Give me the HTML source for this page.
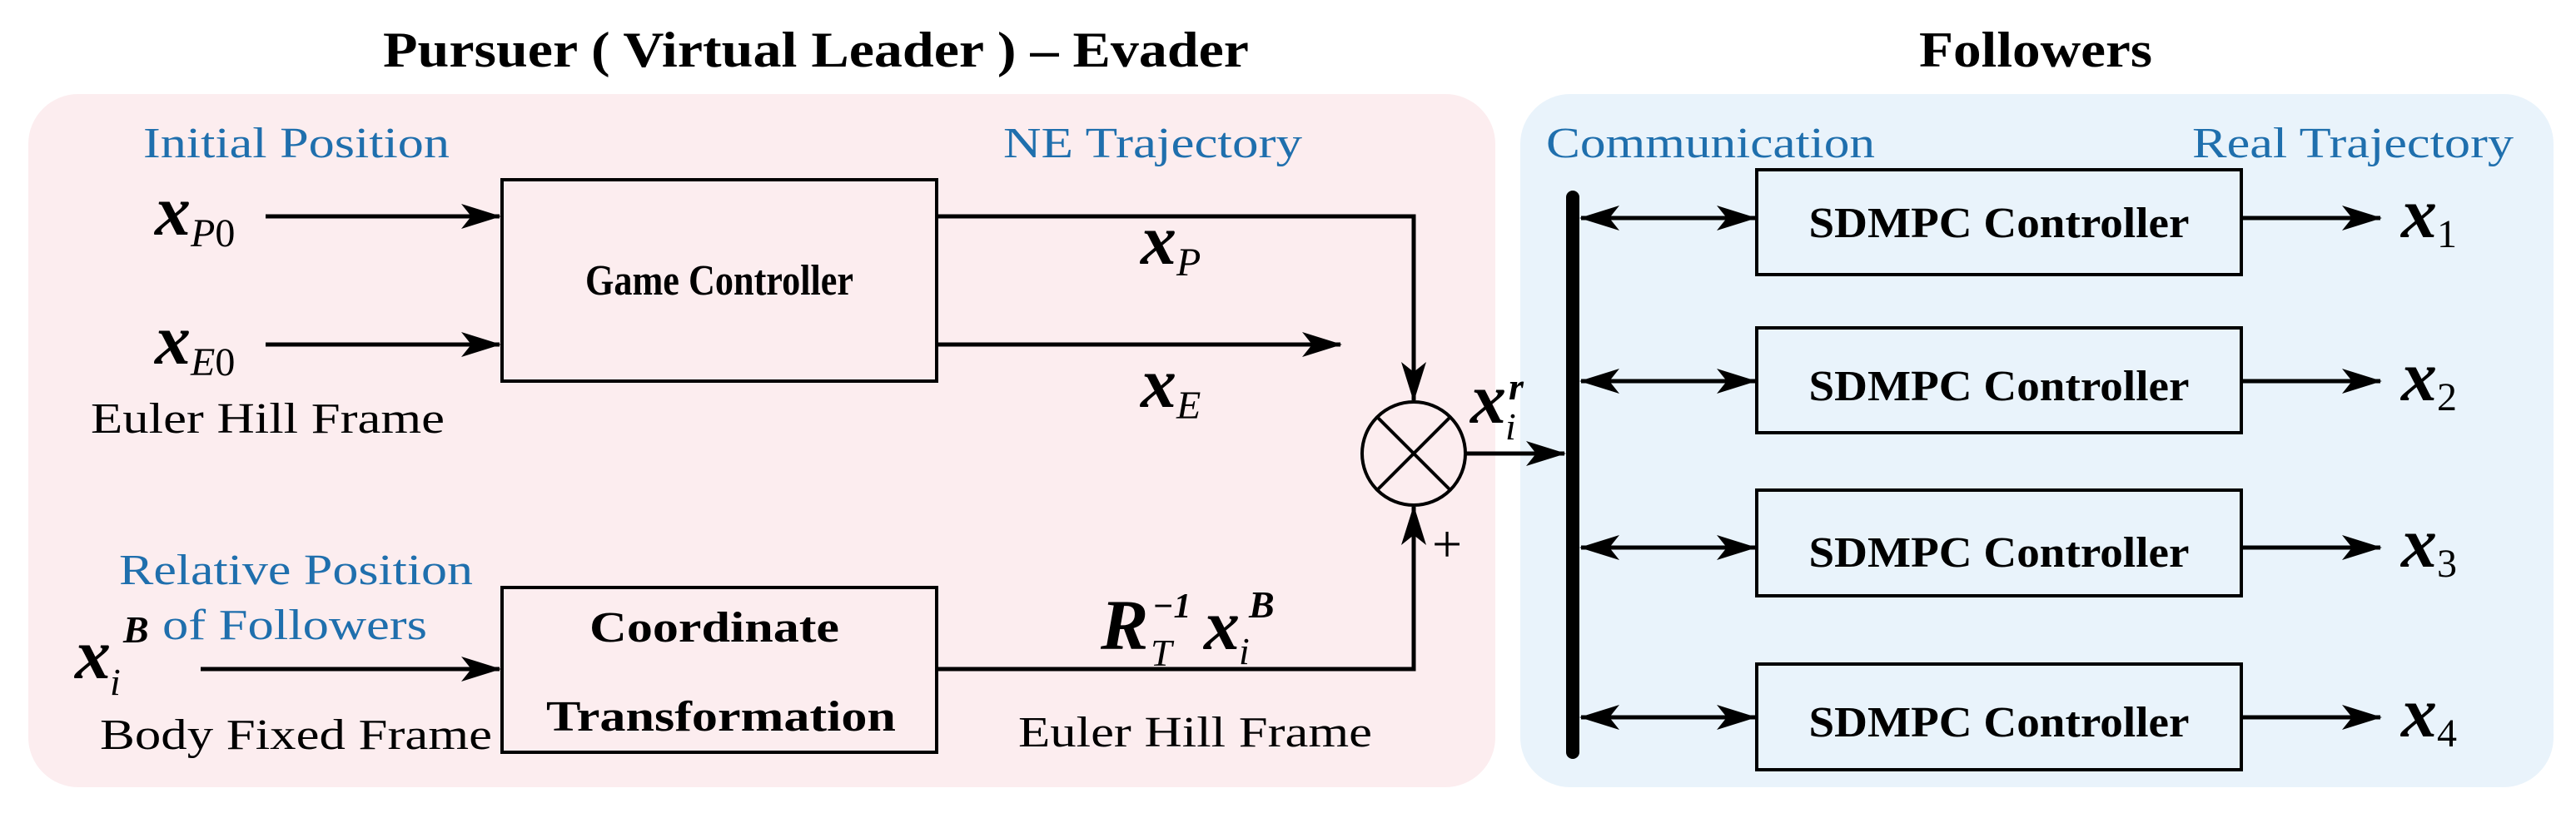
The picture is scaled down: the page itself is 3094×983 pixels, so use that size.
<!DOCTYPE html>
<html><head><meta charset="utf-8"><style>html,body{margin:0;padding:0;background:#fff}svg{display:block}svg text{font-family:"Liberation Serif","Times New Roman",serif}</style></head>
<body>
<svg width="3094" height="983" viewBox="0 0 3094 983" xmlns="http://www.w3.org/2000/svg">
<defs>
<marker id="a" markerUnits="userSpaceOnUse" markerWidth="48" markerHeight="30" refX="46" refY="15" orient="auto-start-reverse" viewBox="0 0 48 30">
<path d="M0,0 L48,15 L0,30 L12,15 z" fill="#000"/></marker>
</defs>
<rect x="34" y="113" width="1762" height="833" rx="60" fill="#fcedef"/>
<rect x="1826" y="113" width="1241" height="833" rx="60" fill="#e9f3fb"/>
<text x="980" y="80" font-size="60" font-weight="bold" text-anchor="middle" textLength="1040" lengthAdjust="spacingAndGlyphs">Pursuer ( Virtual Leader ) – Evader</text>
<text x="2445" y="80" font-size="60" font-weight="bold" text-anchor="middle" textLength="280" lengthAdjust="spacingAndGlyphs">Followers</text>
<g fill="#1f6fad" font-size="52">
<text x="172" y="189" textLength="368" lengthAdjust="spacingAndGlyphs">Initial Position</text>
<text x="1205" y="189" textLength="359" lengthAdjust="spacingAndGlyphs">NE Trajectory</text>
<text x="143" y="702" textLength="425" lengthAdjust="spacingAndGlyphs">Relative Position</text>
<text x="195" y="768" textLength="318" lengthAdjust="spacingAndGlyphs">of Followers</text>
<text x="1857" y="189" textLength="395" lengthAdjust="spacingAndGlyphs">Communication</text>
<text x="2633" y="189" textLength="386" lengthAdjust="spacingAndGlyphs">Real Trajectory</text>
</g>
<g font-size="52">
<text x="109" y="520" textLength="425" lengthAdjust="spacingAndGlyphs">Euler Hill Frame</text>
<text x="120" y="900" textLength="471" lengthAdjust="spacingAndGlyphs">Body Fixed Frame</text>
<text x="1223" y="897" textLength="425" lengthAdjust="spacingAndGlyphs">Euler Hill Frame</text>
</g>
<g fill="none" stroke="#000" stroke-width="4">
<rect x="603" y="216" width="522" height="242"/>
<rect x="603" y="706" width="522" height="198"/>
<rect x="2110" y="204" width="582" height="126"/>
<rect x="2110" y="394" width="582" height="126"/>
<rect x="2110" y="589" width="582" height="127"/>
<rect x="2110" y="798" width="582" height="127"/>
<circle cx="1698" cy="545" r="62"/>
<line x1="1654" y1="501" x2="1742" y2="589"/>
<line x1="1742" y1="501" x2="1654" y2="589"/>
</g>
<g fill="none" stroke="#000" stroke-width="5">
<line x1="319" y1="260" x2="600" y2="260" marker-end="url(#a)"/>
<line x1="319" y1="414" x2="600" y2="414" marker-end="url(#a)"/>
<line x1="241" y1="804" x2="600" y2="804" marker-end="url(#a)"/>
<polyline points="1125,260 1698,260 1698,481" marker-end="url(#a)"/>
<line x1="1125" y1="414" x2="1610" y2="414" marker-end="url(#a)"/>
<polyline points="1125,804 1698,804 1698,609" marker-end="url(#a)"/>
<line x1="1760" y1="545" x2="1879" y2="545" marker-end="url(#a)"/>
<line x1="1899" y1="262" x2="2108" y2="262" marker-start="url(#a)" marker-end="url(#a)"/>
<line x1="1899" y1="458" x2="2108" y2="458" marker-start="url(#a)" marker-end="url(#a)"/>
<line x1="1899" y1="658" x2="2108" y2="658" marker-start="url(#a)" marker-end="url(#a)"/>
<line x1="1899" y1="862" x2="2108" y2="862" marker-start="url(#a)" marker-end="url(#a)"/>
<line x1="2692" y1="262" x2="2859" y2="262" marker-end="url(#a)"/>
<line x1="2692" y1="458" x2="2859" y2="458" marker-end="url(#a)"/>
<line x1="2692" y1="658" x2="2859" y2="658" marker-end="url(#a)"/>
<line x1="2692" y1="862" x2="2859" y2="862" marker-end="url(#a)"/>
</g>
<rect x="1881" y="229" width="16" height="683" rx="8" fill="#000"/>
<g font-size="52" font-weight="bold" text-anchor="middle">
<text x="864" y="354" textLength="322" lengthAdjust="spacingAndGlyphs">Game Controller</text>
<text x="858" y="771" textLength="300" lengthAdjust="spacingAndGlyphs">Coordinate</text>
<text x="866" y="878" textLength="420" lengthAdjust="spacingAndGlyphs">Transformation</text>
<text x="2401" y="285" textLength="457" lengthAdjust="spacingAndGlyphs">SDMPC Controller</text>
<text x="2401" y="481" textLength="457" lengthAdjust="spacingAndGlyphs">SDMPC Controller</text>
<text x="2401" y="681" textLength="457" lengthAdjust="spacingAndGlyphs">SDMPC Controller</text>
<text x="2401" y="885" textLength="457" lengthAdjust="spacingAndGlyphs">SDMPC Controller</text>
</g>
<g font-style="italic">
<text x="186" y="282" font-size="86" font-weight="bold">x<tspan font-size="48" font-weight="normal" dy="14">P</tspan><tspan font-size="48" font-weight="normal" font-style="normal">0</tspan></text>
<text x="186" y="437" font-size="86" font-weight="bold">x<tspan font-size="48" font-weight="normal" dy="14">E</tspan><tspan font-size="48" font-weight="normal" font-style="normal">0</tspan></text>
<text x="1370" y="317" font-size="86" font-weight="bold">x<tspan font-size="48" font-weight="normal" dy="14">P</tspan></text>
<text x="1370" y="489" font-size="86" font-weight="bold">x<tspan font-size="48" font-weight="normal" dy="14">E</tspan></text>
<text x="90" y="815" font-size="86" font-weight="bold">x</text>
<text x="132" y="835" font-size="46">i</text>
<text x="148" y="772" font-size="46" font-weight="bold">B</text>
<text x="1322" y="780" font-size="86" font-weight="bold">R</text>
<text x="1382" y="800" font-size="46">T</text>
<text x="1384" y="742" font-size="42" font-weight="bold">−1</text>
<text x="1446" y="780" font-size="86" font-weight="bold">x</text>
<text x="1488" y="798" font-size="46">i</text>
<text x="1500" y="742" font-size="46" font-weight="bold">B</text>
<text x="1766" y="508" font-size="86" font-weight="bold">x</text>
<text x="1808" y="528" font-size="46">i</text>
<text x="1812" y="480" font-size="46" font-weight="bold">r</text>
<text x="2884" y="285" font-size="86" font-weight="bold">x<tspan font-size="48" font-weight="normal" font-style="normal" dy="12">1</tspan></text>
<text x="2884" y="481" font-size="86" font-weight="bold">x<tspan font-size="48" font-weight="normal" font-style="normal" dy="12">2</tspan></text>
<text x="2884" y="681" font-size="86" font-weight="bold">x<tspan font-size="48" font-weight="normal" font-style="normal" dy="12">3</tspan></text>
<text x="2884" y="885" font-size="86" font-weight="bold">x<tspan font-size="48" font-weight="normal" font-style="normal" dy="12">4</tspan></text>
</g>
<text x="1720" y="675" font-size="64">+</text>
</svg>
</body></html>
